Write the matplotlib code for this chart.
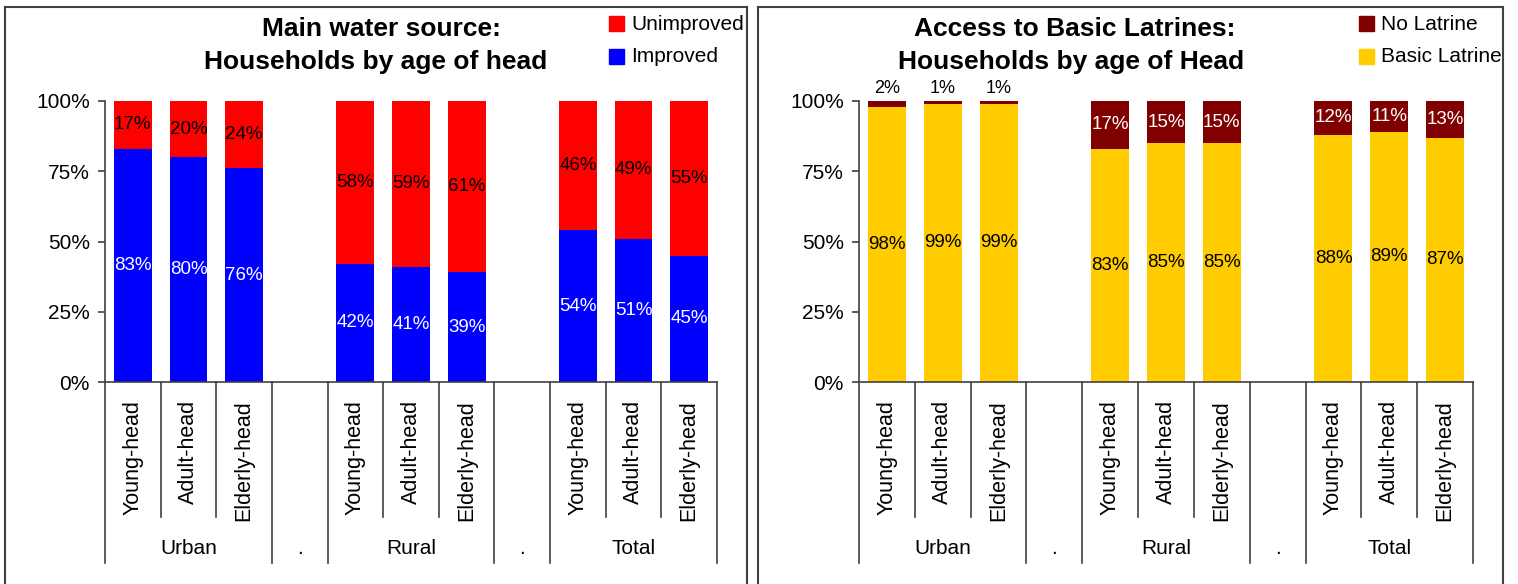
import matplotlib.pyplot as plt
from matplotlib.patches import Rectangle
from matplotlib.lines import Line2D

plt.rcParams['font.family'] = ['Liberation Sans', 'DejaVu Sans']

# ---- data ----
groups = ['Urban', '.', 'Rural', '.', 'Total']
age_labels = ['Young-head', 'Adult-head', 'Elderly-head']

water_improved = [83, 80, 76, 42, 41, 39, 54, 51, 45]
water_unimproved = [17, 20, 24, 58, 59, 61, 46, 49, 55]

latrine_basic = [98, 99, 99, 83, 85, 85, 88, 89, 87]
latrine_none = [2, 1, 1, 17, 15, 15, 12, 11, 13]

W, H = 1518, 584
fig = plt.figure(figsize=(W / 100, H / 100), dpi=100)


def fx(px):
    return px / W


def fy(py):
    return 1 - py / H


def panel_border(x0, x1, y0=7):
    for xs, ys in [([x0, x0], [y0, 700]), ([x0, x1], [y0, y0]), ([x1, x1], [y0, 700])]:
        fig.add_artist(Line2D([fx(v) for v in xs], [fy(v) for v in ys],
                              color='#404040', lw=1.5, transform=fig.transFigure))


def legend_entry(x, y, color, label):
    fig.add_artist(Rectangle((fx(x), fy(y + 7)), fx(15), 15 / H, color=color,
                             transform=fig.transFigure))
    fig.text(fx(x + 22), fy(y), label, fontsize=15, va='center', ha='left')


pos = [0, 1, 2, 4, 5, 6, 8, 9, 10]
full_sep = [-0.5, 2.5, 3.5, 6.5, 7.5, 10.5]
short_sep = [0.5, 1.5, 4.5, 5.5, 8.5, 9.5]


def stacked_chart(ax, lower, upper, c_low, c_up, t_low, t_up, small_above=False):
    ax.bar(pos, lower, width=0.68, color=c_low, zorder=2)
    ax.bar(pos, upper, width=0.68, bottom=lower, color=c_up, zorder=2)
    for x, lo, up in zip(pos, lower, upper):
        ax.text(x, lo / 2, '%d%%' % lo, ha='center', va='center', fontsize=13.5, color=t_low)
        if small_above and up < 5:
            ax.text(x, 100 + 4.6, '%d%%' % up, ha='center', va='center', fontsize=13,
                    color='black', clip_on=False)
        else:
            ax.text(x, lo + up / 2, '%d%%' % up, ha='center', va='center', fontsize=13.5,
                    color=t_up)

    ax.set_xlim(-0.5, 10.5)
    ax.set_ylim(0, 100)
    ax.set_yticks([0, 25, 50, 75, 100])
    ax.set_yticklabels(['0%', '25%', '50%', '75%', '100%'], fontsize=15)
    ax.tick_params(axis='y', direction='out', length=5, width=1.2, color='#404040', pad=6)
    ax.set_xticks([])
    for s in ['top', 'right']:
        ax.spines[s].set_visible(False)
    for s in ['left', 'bottom']:
        ax.spines[s].set_color('#404040')
        ax.spines[s].set_linewidth(1.2)

    tr = ax.get_xaxis_transform()
    for b in full_sep:
        ax.plot([b, b], [0, -0.644], color='#404040', lw=1.2, transform=tr, clip_on=False)
    for b in short_sep:
        ax.plot([b, b], [0, -0.480], color='#404040', lw=1.2, transform=tr, clip_on=False)
    for i, x in enumerate(pos):
        ax.text(x, -0.064, age_labels[i % 3], rotation=90, ha='center', va='top',
                fontsize=15.5, transform=tr)
    for g, x in zip(groups, [1, 3, 5, 7, 9]):
        ax.text(x, -0.591, g, ha='center', va='center', fontsize=15, transform=tr)


# left panel: water source
panel_border(5, 747)
ax1 = fig.add_axes([fx(105), fy(382), 612 / W, 281 / H])
stacked_chart(ax1, water_improved, water_unimproved, '#0000FF', '#FF0000', 'white', 'black')
fig.text(fx(381), fy(29), 'Main water source:', ha='center', va='center',
         fontsize=19, fontweight='bold')
fig.text(fx(376), fy(62), 'Households by age of head', ha='center', va='center',
         fontsize=19, fontweight='bold')
legend_entry(609, 24, '#FF0000', 'Unimproved')
legend_entry(609, 57, '#0000FF', 'Improved')

# right panel: latrines
panel_border(758, 1503)
ax2 = fig.add_axes([fx(859), fy(382), 614 / W, 281 / H])
stacked_chart(ax2, latrine_basic, latrine_none, '#FFCC00', '#800000', 'black', 'white',
              small_above=True)
fig.text(fx(1075), fy(29), 'Access to Basic Latrines:', ha='center', va='center',
         fontsize=19, fontweight='bold')
fig.text(fx(1071), fy(62), 'Households by age of Head', ha='center', va='center',
         fontsize=19, fontweight='bold')
legend_entry(1359, 24, '#800000', 'No Latrine')
legend_entry(1359, 57, '#FFCC00', 'Basic Latrine')

fig.savefig('out.png', dpi=100)
